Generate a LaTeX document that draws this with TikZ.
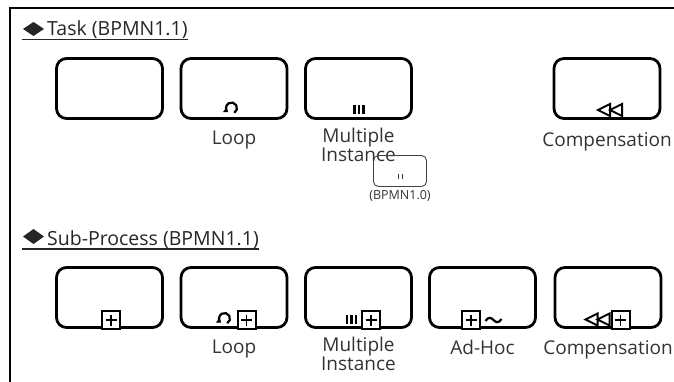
\documentclass[tikz,border=0pt]{standalone}
\usepackage{fontspec}
\setmainfont{Open Sans}
\usetikzlibrary{arrows.meta,positioning,calc}

\tikzset{
  loopmark/.pic={
    \draw[line width=2.2pt,-{Triangle[length=4pt,width=6pt]}]
      (60:5.5) arc[start angle=60,end angle=-230,radius=5.5];},
  mimark/.pic={
    \foreach \i in {-1,0,1}
      \draw[line width=2.2pt] (\i*4.5,-4.5) -- (\i*4.5,4.5);},
  compmark/.pic={
    \draw[line width=2pt,line join=miter]
      (-12,0) -- (0,-6) -- (0,6) -- cycle
      (0,0) -- (12,-6) -- (12,6) -- cycle;},
  plusmark/.pic={
    \draw[line width=2pt,fill=white] (-9,-9) rectangle (9,9);
    \draw[line width=1.8pt] (-5.5,0) -- (5.5,0) (0,-5.5) -- (0,5.5);},
  adhocmark/.pic={
    \draw[line width=2.2pt] (-8,1) .. controls (-5,-4) and (-2,-2) .. (0,0)
      .. controls (2,2) and (5,4) .. (8,-1);}
}

\begin{document}
\begin{tikzpicture}[x=1pt,y=-1pt,
  box/.style={draw,rounded corners=10pt,line width=2.8pt,
    minimum width=106pt,minimum height=60pt,inner sep=0pt},
  lbl/.style={font=\fontsize{19}{16.5}\selectfont,text=black!80,
    inner sep=0pt,align=center},
  hdr/.style={font=\fontsize{19.5}{22}\selectfont,text=black!85,
    inner sep=0pt,anchor=base west}]
  \useasboundingbox (0,0) rectangle (674,382);

  % frame
  \draw[line width=2.2pt] (10,400) -- (10,8) -- (700,8);

  % ---- Task (BPMN1.1)
  \node[hdr] (taskhdr) at (47,36) {Task (BPMN1.1)};
  \fill[black!85] (23,29) -- (33.5,22) -- (44,29) -- (33.5,36) -- cycle;
  \draw[line width=1.2pt,black!85] (22,39.5) -- (taskhdr.base east |- 0,39.5);

  \foreach \n/\x in {t1/109.5,t2/234,t3/358.5,t4/607}
    \node[box] (\n) at (\x,88.5) {};

  \pic at (231.5,108) {loopmark};
  \pic at (359,109.5) {mimark};
  \pic at (610,110) {compmark};

  \node[lbl,below=11pt of t2] (t2lbl) {Loop};
  \node[lbl,below=8pt of t3] (t3lbl) {Multiple\\Instance};
  \node[lbl,below=12pt of t4] (t4lbl) {Compensation};

  % old multiple instance marker
  \node[draw,black!75,line width=0.9pt,rounded corners=5pt,
    minimum width=53pt,minimum height=31pt,inner sep=0pt] (oldmi) at (400,171) {};
  \draw[line width=0.9pt,black!80] (398,174.5) -- (398,179.5) (402,174.5) -- (402,179.5);
  \node[font=\fontsize{12.5}{14}\selectfont,text=black!80,inner sep=0pt,
    below=3pt of oldmi] (oldlbl) {(BPMN1.0)};

  % ---- Sub-Process (BPMN1.1)
  \node[hdr] (subhdr) at (47,245) {Sub-Process (BPMN1.1)};
  \fill[black!85] (23,236.5) -- (33.5,229) -- (44,236.5) -- (33.5,244) -- cycle;
  \draw[line width=1.2pt,black!85] (22,249) -- (subhdr.base east |- 0,249);

  \foreach \n/\x in {s1/109.5,s2/234,s3/358.5,s4/482.5,s5/608}
    \node[box] (\n) at (\x,297.5) {};

  \pic at (111,320) {plusmark};
  \pic at (224.5,318.5) {loopmark};
  \pic at (246.5,320) {plusmark};
  \pic at (351.5,319.5) {mimark};
  \pic at (371,320) {plusmark};
  \pic at (471,320) {plusmark};
  \pic at (493.5,320) {adhocmark};
  \pic at (597.5,319.5) {compmark};
  \pic at (620.5,320) {plusmark};

  \node[lbl,below=11pt of s2] (s2lbl) {Loop};
  \node[lbl,below=8pt of s3] (s3lbl) {Multiple\\Instance};
  \node[lbl,below=11pt of s4] (s4lbl) {Ad-Hoc};
  \node[lbl,below=11pt of s5] (s5lbl) {Compensation};
\end{tikzpicture}
\end{document}
